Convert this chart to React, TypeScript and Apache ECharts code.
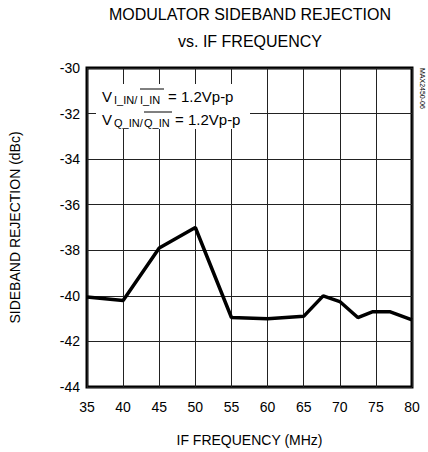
import React, { useEffect, useRef } from "react";
import * as echarts from "echarts";

const titleLines = ["MODULATOR SIDEBAND REJECTION", "vs. IF FREQUENCY"];
const xAxisName = "IF FREQUENCY (MHz)";
const yAxisName = "SIDEBAND REJECTION (dBc)";
const partNumber = "MAX2450-06";

const freqMHz = [35, 40, 45, 50, 55, 60, 65, 67.7, 70, 72.5, 74.5, 77, 80];
const rejectionDbc = [-40.05, -40.2, -37.9, -37.0, -40.95, -41.0, -40.9, -40.0, -40.25, -40.95, -40.7, -40.7, -41.05];

const FONT = "'Liberation Sans', Arial, sans-serif";

export default function App() {
  const ref = useRef<HTMLDivElement>(null);
  useEffect(() => {
    if (!ref.current) return;
    const chart = echarts.init(ref.current, null, { renderer: "svg" });
    const data = freqMHz.map((f, i) => [f, rejectionDbc[i]]);
    const txt = (x: number, y: number, text: string, size: number) => ({
      type: "text",
      x,
      y,
      z: 110,
      style: { text, font: `${size}px ${FONT}`, fill: "#000", verticalAlign: "middle", align: "left" },
    });
    const bar = (x1: number, x2: number, y: number) => ({
      type: "line",
      z: 110,
      shape: { x1, y1: y, x2, y2: y },
      style: { stroke: "#000", lineWidth: 1 },
    });
    chart.setOption({
      animation: false,
      backgroundColor: "#fff",
      title: {
        text: titleLines.join("\n"),
        left: 250,
        top: 1,
        padding: 0,
        textAlign: "center",
        textStyle: { fontFamily: FONT, fontSize: 16, fontWeight: "normal", color: "#000", lineHeight: 27 },
      },
      grid: {
        left: 86,
        top: 68,
        right: 16,
        bottom: 61,
        show: true,
        borderColor: "#000",
        borderWidth: 3,
        backgroundColor: "transparent",
      },
      xAxis: {
        type: "value",
        min: 35,
        max: 80,
        interval: 5,
        name: xAxisName,
        nameLocation: "middle",
        nameGap: 46,
        nameTextStyle: { fontFamily: FONT, fontSize: 14, color: "#000" },
        axisLine: { show: false },
        axisTick: { show: false },
        axisLabel: { fontFamily: FONT, fontSize: 14, color: "#000", margin: 13 },
        splitLine: { show: true, lineStyle: { color: "#222", width: 1 } },
      },
      yAxis: {
        type: "value",
        min: -44,
        max: -30,
        interval: 2,
        name: yAxisName,
        nameLocation: "middle",
        nameGap: 65,
        nameTextStyle: { fontFamily: FONT, fontSize: 14, color: "#000" },
        axisLine: { show: false },
        axisTick: { show: false },
        axisLabel: { fontFamily: FONT, fontSize: 14, color: "#000", margin: 7 },
        splitLine: { show: true, lineStyle: { color: "#222", width: 1 } },
      },
      series: [
        {
          type: "line",
          data,
          showSymbol: false,
          lineStyle: { color: "#000", width: 3.5 },
          z: 5,
        },
      ],
      graphic: [
        {
          type: "rect",
          z: 100,
          shape: { x: 96, y: 84, width: 154, height: 45 },
          style: { fill: "#fff" },
        },
        txt(102, 96, "V", 15),
        txt(114, 100, "I_IN/", 11),
        txt(140, 100, "I_IN", 11),
        bar(140, 164, 89),
        txt(168, 96, "= 1.2Vp-p", 15),
        txt(102, 119, "V", 15),
        txt(114, 123, "Q_IN/", 11),
        txt(144, 123, "Q_IN", 11),
        bar(144, 172, 112),
        txt(175, 119, "= 1.2Vp-p", 15),
        {
          type: "text",
          x: 422,
          y: 68,
          rotation: -Math.PI / 2,
          z: 110,
          style: { text: partNumber, font: `7px ${FONT}`, fill: "#000", align: "left", verticalAlign: "middle" },
        },
      ],
    });
    return () => chart.dispose();
  }, []);
  return <div ref={ref} style={{ position: "fixed", left: 0, top: 0, width: 428, height: 452 }} />;
}
